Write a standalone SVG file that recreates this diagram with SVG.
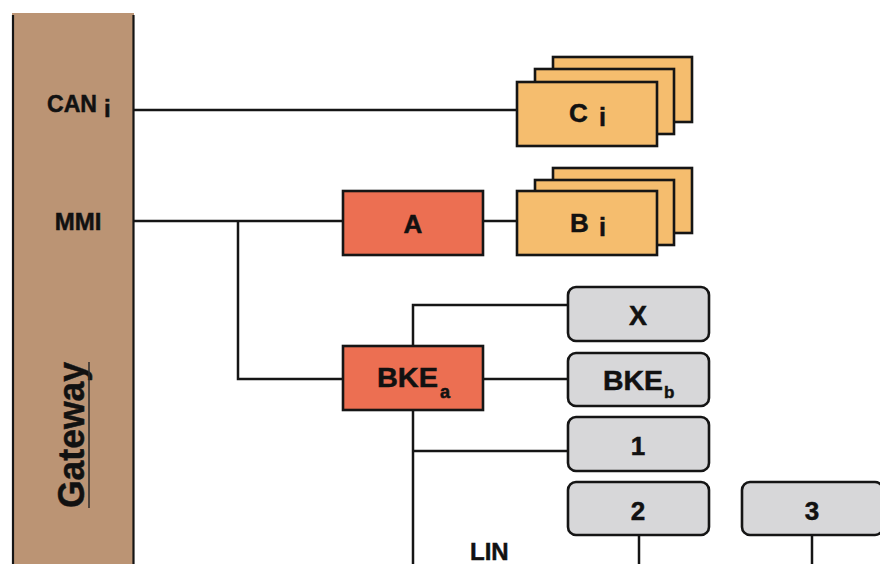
<svg xmlns="http://www.w3.org/2000/svg" width="880" height="564" viewBox="0 0 880 564">
<style>
  .lbl{font-family:"Liberation Sans",Arial,sans-serif;font-weight:bold;fill:#111;stroke:#111;stroke-width:0.5;}
  .box{stroke:#151515;stroke-width:2.6;}
  .yel{fill:#f5bd6e;}
  .red{fill:#ec6f52;}
  .gry{fill:#d7d7d9;}
  .wire{fill:none;stroke:#151515;stroke-width:2.5;}
</style>
<rect width="880" height="564" fill="#ffffff"/>

<g id="gateway">
  <rect x="12" y="13" width="122" height="560" fill="#bb9474"/>
  <line x1="13" y1="15" x2="13" y2="564" stroke="#151515" stroke-width="2.2"/>
  <line x1="133.5" y1="15" x2="133.5" y2="564" stroke="#151515" stroke-width="2.2"/>
  <text class="lbl" x="47" y="112" font-size="24" textLength="50" lengthAdjust="spacingAndGlyphs">CAN</text>
  <text class="lbl" x="104" y="117" font-size="24">i</text>
  <text class="lbl" x="78" y="230" font-size="24" text-anchor="middle">MMI</text>
  <g transform="translate(84,435) rotate(-90)">
    <text class="lbl" x="0" y="0" font-size="37" text-anchor="middle" textLength="146" lengthAdjust="spacingAndGlyphs">Gateway</text>
    <line x1="-73" y1="5" x2="73" y2="5" stroke="#2a2a2a" stroke-width="1.5"/>
  </g>
</g>

<g id="connectors">
  <path class="wire" d="M134,110 H517"/>
  <path class="wire" d="M134,221 H343"/>
  <path class="wire" d="M483,221 H517"/>
  <path class="wire" d="M238,221 V379 H343"/>
  <path class="wire" d="M413,346 V305 H568"/>
  <path class="wire" d="M483,379 H568"/>
  <path class="wire" d="M413,410 V564"/>
  <path class="wire" d="M413,451 H568"/>
  <path class="wire" d="M639,535 V564"/>
  <path class="wire" d="M812,535 V564"/>
</g>

<g id="node-Ci">
  <rect class="box yel" x="553" y="57" width="139" height="65"/>
  <rect class="box yel" x="535" y="69" width="139" height="65"/>
  <rect class="box yel" x="517" y="82" width="140" height="64"/>
  <text class="lbl" x="569" y="122" font-size="26">C</text>
  <text class="lbl" x="599" y="126" font-size="25">i</text>
</g>

<g id="node-A">
  <rect class="box red" x="343" y="191" width="140" height="64"/>
  <text class="lbl" x="413" y="233" font-size="26" text-anchor="middle">A</text>
</g>

<g id="node-Bi">
  <rect class="box yel" x="553" y="168" width="139" height="65"/>
  <rect class="box yel" x="535" y="180" width="139" height="65"/>
  <rect class="box yel" x="517" y="191" width="140" height="64"/>
  <text class="lbl" x="570" y="232" font-size="26">B</text>
  <text class="lbl" x="599" y="236" font-size="25">i</text>
</g>

<g id="node-BKEa">
  <rect class="box red" x="343" y="346" width="140" height="64"/>
  <text class="lbl" x="377" y="387" font-size="27" textLength="61" lengthAdjust="spacingAndGlyphs">BKE</text>
  <text class="lbl" x="440" y="398" font-size="18">a</text>
</g>

<g id="node-X">
  <rect class="box gry" x="568" y="287" width="141" height="54" rx="8"/>
  <text class="lbl" x="638" y="325" font-size="27" text-anchor="middle">X</text>
</g>

<g id="node-BKEb">
  <rect class="box gry" x="568" y="353" width="141" height="53" rx="8"/>
  <text class="lbl" x="603" y="390" font-size="27" textLength="60" lengthAdjust="spacingAndGlyphs">BKE</text>
  <text class="lbl" x="664" y="398" font-size="17">b</text>
</g>

<g id="node-1">
  <rect class="box gry" x="568" y="417" width="141" height="54" rx="8"/>
  <text class="lbl" x="638" y="455" font-size="26" text-anchor="middle">1</text>
</g>

<g id="node-2">
  <rect class="box gry" x="568" y="482" width="141" height="53" rx="8"/>
  <text class="lbl" x="638" y="520" font-size="26" text-anchor="middle">2</text>
</g>

<g id="node-3">
  <rect class="box gry" x="742" y="482" width="141" height="53" rx="8"/>
  <text class="lbl" x="812" y="520" font-size="26" text-anchor="middle">3</text>
</g>

<g id="label-LIN">
  <text class="lbl" x="470" y="560" font-size="24">LIN</text>
</g>
</svg>
